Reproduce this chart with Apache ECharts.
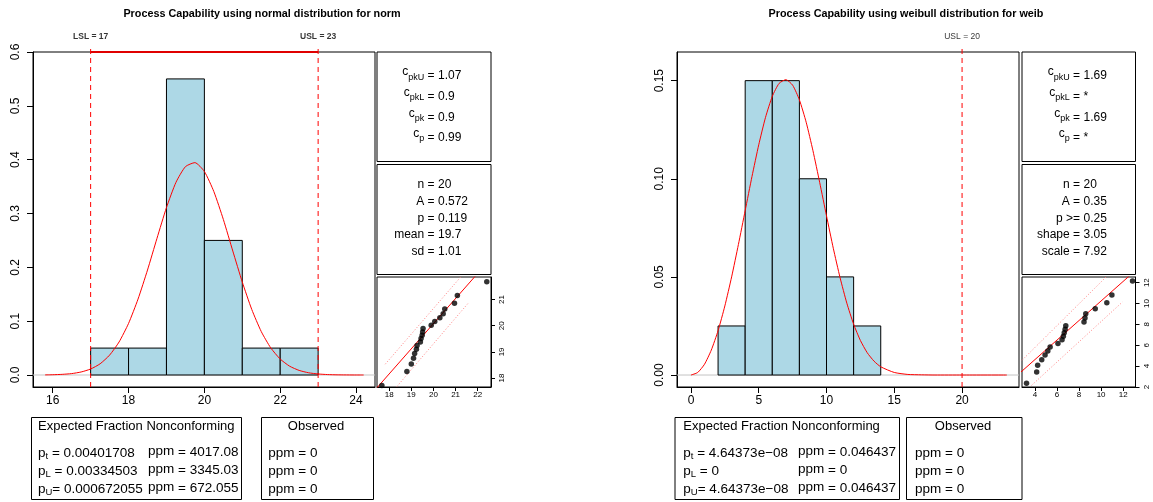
<!DOCTYPE html>
<html><head><meta charset="utf-8">
<script src="https://cdn.jsdelivr.net/npm/echarts@6/dist/echarts.min.js"></script>
<style>html,body{margin:0;padding:0;background:#fff}#c{width:1153px;height:502px}</style>
</head><body><div id="c"></div>
<script>
// ================= DATA =================
const titles = ['Process Capability using normal distribution for norm', 'Process Capability using weibull distribution for weib'];

// --- normal ("norm") ---
const normBinEdges = [17, 18, 19, 20, 21, 22, 23];
const normDensity = [0.05, 0.05, 0.55, 0.25, 0.05, 0.05];
const normCurveX = [15.8, 16, 16.25, 16.5, 16.75, 17, 17.25, 17.5, 17.75, 18, 18.25, 18.5, 18.75, 19, 19.25, 19.5, 19.75, 20, 20.25, 20.5, 20.75, 21, 21.25, 21.5, 21.75, 22, 22.25, 22.5, 22.75, 23, 23.25, 23.5, 24, 24.2];
const normCurveY = [0.0002, 0.0005, 0.0012, 0.0026, 0.0056, 0.0111, 0.0208, 0.0369, 0.0613, 0.0958, 0.1410, 0.1950, 0.2539, 0.3110, 0.3578, 0.3870, 0.3945, 0.3780, 0.3407, 0.2890, 0.2302, 0.1726, 0.1217, 0.0807, 0.0504, 0.0296, 0.0163, 0.0085, 0.0041, 0.0019, 0.0008, 0.0003, 0.0000, 0.0000];
const normSpecValues = [17, 23];
const normSpecLabels = ['LSL = 17', 'USL = 23'];
const normXTicks = [16, 18, 20, 22, 24];
const normYTicks = [0, 0.1, 0.2, 0.3, 0.4, 0.5, 0.6];
const normYTickLabels = ['0.0', '0.1', '0.2', '0.3', '0.4', '0.5', '0.6'];
const normQQSample = [17.67, 18.80, 19.00, 19.10, 19.15, 19.23, 19.26, 19.41, 19.44, 19.49, 19.51, 19.53, 19.90, 20.06, 20.29, 20.44, 20.51, 20.95, 21.08, 22.41];
const normQQTheoretical = [17.72, 18.25, 18.54, 18.76, 18.94, 19.10, 19.24, 19.38, 19.51, 19.64, 19.76, 19.89, 20.02, 20.16, 20.30, 20.46, 20.64, 20.86, 21.15, 21.68];
const normQQLine = [[17.0, 17.20], [23.0, 22.96]];
const normQQUpper = [[17.82, 18.53], [21.23, 21.86]];
const normQQLower = [[18.35, 17.68], [21.60, 20.89]];
const normQQXTicks = [18, 19, 20, 21, 22];
const normQQYTicks = [18, 19, 20, 21];
const normCapSubs = ['pkU', 'pkL', 'pk', 'p'];
const normCapValues = ['1.07', '0.9', '0.9', '0.99'];
const normStatLabels = ['n =', 'A =', 'p =', 'mean =', 'sd ='];
const normStatValues = ['20', '0.572', '0.119', '19.7', '1.01'];
const normExpSubs = ['t', 'L', 'U'];
const normExpP = [' = 0.00401708', ' = 0.00334503', '= 0.000672055'];
const normExpPpm = ['4017.08', '3345.03', '672.055'];
const normObsPpm = ['0', '0', '0'];

// --- weibull ("weib") ---
const weibBinEdges = [2, 4, 6, 8, 10, 12, 14];
const weibDensity = [0.025, 0.15, 0.15, 0.10, 0.05, 0.025];
const weibCurveX = [0, 0.5, 1, 1.5, 2, 2.5, 3, 3.5, 4, 4.5, 5, 5.5, 6, 6.5, 7, 7.5, 8, 8.5, 9, 9.5, 10, 10.5, 11, 11.5, 12, 12.5, 13, 13.5, 14, 15, 16, 17, 18, 20, 23.3];
const weibCurveY = [0, 0.0013, 0.0055, 0.0127, 0.0226, 0.0352, 0.0500, 0.0665, 0.0838, 0.1011, 0.1173, 0.1313, 0.1420, 0.1486, 0.1505, 0.1477, 0.1402, 0.1288, 0.1143, 0.0980, 0.0811, 0.0646, 0.0496, 0.0366, 0.0259, 0.0176, 0.0114, 0.0071, 0.0042, 0.0013, 0.0003, 0.0001, 0, 0, 0];
const weibSpecValues = [20];
const weibSpecLabels = ['USL = 20'];
const weibXTicks = [0, 5, 10, 15, 20];
const weibYTicks = [0, 0.05, 0.10, 0.15];
const weibYTickLabels = ['0.00', '0.05', '0.10', '0.15'];
const weibQQSample = [3.24, 4.16, 4.25, 4.62, 4.92, 5.17, 5.38, 6.09, 6.46, 6.58, 6.66, 6.74, 6.80, 8.45, 8.54, 8.61, 9.47, 10.52, 10.98, 12.85];
const weibQQTheoretical = [2.37, 3.43, 4.09, 4.61, 5.06, 5.46, 5.83, 6.18, 6.52, 6.86, 7.19, 7.53, 7.87, 8.23, 8.61, 9.03, 9.50, 10.07, 10.82, 12.15];
const weibQQLine = [[2.0, 2.75], [14.0, 13.99]];
const weibQQUpper = [[2.83, 4.56], [10.45, 12.54]];
const weibQQLower = [[3.70, 2.16], [11.93, 10.14]];
const weibQQXTicks = [4, 6, 8, 10, 12];
const weibQQYTicks = [2, 4, 6, 8, 10, 12];
const weibCapSubs = ['pkU', 'pkL', 'pk', 'p'];
const weibCapValues = ['1.69', '*', '1.69', '*'];
const weibStatLabels = ['n =', 'A =', 'p >=', 'shape =', 'scale ='];
const weibStatValues = ['20', '0.35', '0.25', '3.05', '7.92'];
const weibExpSubs = ['t', 'L', 'U'];
const weibExpP = [' = 4.64373e\u221208', ' = 0', '= 4.64373e\u221208'];
const weibExpPpm = ['0.046437', '0', '0.046437'];
const weibObsPpm = ['0', '0', '0'];

// ================= LAYOUT / STYLE =================
const FONT = '"Liberation Sans", Arial, Helvetica, sans-serif';
const FS = 12;
const TFS = 13.5;

const panels = [
  { // normal
    hist: {left: 33, top: 52, width: 342, height: 335, xr: [15.48, 24.50], yr: [-0.0223, 0.6]},
    qq: {left: 377, top: 277, width: 114, height: 110, xr: [17.45, 22.60], yr: [17.66, 21.86]},
    side: {x: 377, w: 114, xOp: 434.5},
    titleX: 262,
    bottom: {b1x: 31.5, b1w: 210, b2x: 261.5, b2w: 112, tx: 38, ppmx: 148, obsCx: 316, obsx: 268.3},
    specBold: true, topLine: true,
    edges: normBinEdges, dens: normDensity, cx: normCurveX, cy: normCurveY,
    specs: normSpecValues, specLabels: normSpecLabels, xTicks: normXTicks, yTicks: normYTicks, yTickLabels: normYTickLabels,
    qqS: normQQSample, qqT: normQQTheoretical, qqLine: normQQLine, qqUp: normQQUpper, qqLo: normQQLower,
    qqXT: normQQXTicks, qqYT: normQQYTicks,
    capSubs: normCapSubs, capVals: normCapValues, statLabels: normStatLabels, statVals: normStatValues,
    expSubs: normExpSubs, expP: normExpP, expPpm: normExpPpm, obsPpm: normObsPpm
  },
  { // weibull
    hist: {left: 677, top: 52, width: 342, height: 335, xr: [-1.03, 24.2], yr: [-0.0061, 0.1646]},
    qq: {left: 1022, top: 277, width: 113.5, height: 110, xr: [2.83, 13.12], yr: [2.0, 12.54]},
    side: {x: 1022, w: 113.5, xOp: 1080},
    titleX: 906,
    bottom: {b1x: 675, b1w: 224.5, b2x: 906.5, b2w: 115.5, tx: 683.3, ppmx: 798, obsCx: 963, obsx: 915},
    specBold: false, topLine: false,
    edges: weibBinEdges, dens: weibDensity, cx: weibCurveX, cy: weibCurveY,
    specs: weibSpecValues, specLabels: weibSpecLabels, xTicks: weibXTicks, yTicks: weibYTicks, yTickLabels: weibYTickLabels,
    qqS: weibQQSample, qqT: weibQQTheoretical, qqLine: weibQQLine, qqUp: weibQQUpper, qqLo: weibQQLower,
    qqXT: weibQQXTicks, qqYT: weibQQYTicks,
    capSubs: weibCapSubs, capVals: weibCapValues, statLabels: weibStatLabels, statVals: weibStatValues,
    expSubs: weibExpSubs, expP: weibExpP, expPpm: weibExpPpm, obsPpm: weibObsPpm
  }
];

const capRowsY = [75.8, 96.2, 117.5, 137.5];
const statRowsY = [184.5, 201.5, 218.3, 235.1, 251.9];
const tableTitleY = 426;
const tableRowsY = [453, 471, 489];

const grid = [], xAxis = [], yAxis = [], series = [], graphic = [];

function nearestLabel(v, ticks, labels) {
  let best = 0;
  ticks.forEach((t, i) => { if (Math.abs(t - v) < Math.abs(ticks[best] - v)) best = i; });
  return labels[best];
}

function txt(x, y, text, o) {
  o = o || {};
  const style = {
    text: text, x: x, y: y,
    font: (o.weight || 'normal') + ' ' + (o.size || FS) + 'px ' + FONT,
    fill: '#000', textAlign: o.align || 'left', textVerticalAlign: 'middle', verticalAlign: 'middle'
  };
  if (o.rich) style.rich = o.rich;
  return {type: 'text', silent: true, style: style, z: 10};
}
function box(x, y, w, h) {
  return {type: 'rect', silent: true, shape: {x: x, y: y, width: w, height: h},
    style: {fill: 'none', stroke: '#000', lineWidth: 1}, z: 5};
}
function tok(size, lh, va) {
  return {fontSize: size, fontFamily: FONT, lineHeight: lh, verticalAlign: va, fill: '#000'};
}

const capRich = {c: tok(FS, 16, 'top'), s: tok(9, 16, 'bottom'), e: tok(FS, 16, 'bottom')};
const pRich = {p: tok(TFS, 15, 'top'), s: tok(9.5, 15, 'bottom'), v: tok(TFS, 15, 'top')};
const ppmRich = {q: tok(TFS, 15, 'top'), v: tok(TFS, 15, 'bottom')};

panels.forEach((P, k) => {
  const gH = 2 * k, gQ = 2 * k + 1;
  grid.push({left: P.hist.left, top: P.hist.top, width: P.hist.width, height: P.hist.height, show: true, borderColor: '#000', borderWidth: 1, backgroundColor: 'transparent'});
  grid.push({left: P.qq.left, top: P.qq.top, width: P.qq.width, height: P.qq.height, show: true, borderColor: '#000', borderWidth: 1, backgroundColor: 'transparent'});

  xAxis.push({type: 'value', gridIndex: gH, min: P.hist.xr[0], max: P.hist.xr[1],
    axisLine: {show: true, onZero: false, lineStyle: {color: '#000'}},
    axisTick: {show: true, length: 6, customValues: P.xTicks, lineStyle: {color: '#000'}},
    axisLabel: {customValues: P.xTicks, fontSize: FS, fontFamily: FONT, color: '#000', margin: 8},
    splitLine: {show: false}});
  yAxis.push({type: 'value', gridIndex: gH, min: P.hist.yr[0], max: P.hist.yr[1],
    axisLine: {show: true, onZero: false, lineStyle: {color: '#000'}},
    axisTick: {show: true, length: 6, customValues: P.yTicks, lineStyle: {color: '#000'}},
    axisLabel: {customValues: P.yTicks, rotate: 90, fontSize: FS, fontFamily: FONT, color: '#000', margin: 11,
      formatter: v => nearestLabel(v, P.yTicks, P.yTickLabels)},
    splitLine: {show: false}});
  xAxis.push({type: 'value', gridIndex: gQ, min: P.qq.xr[0], max: P.qq.xr[1],
    axisLine: {show: true, onZero: false, lineStyle: {color: '#000'}},
    axisTick: {show: true, length: 4, customValues: P.qqXT, lineStyle: {color: '#000'}},
    axisLabel: {customValues: P.qqXT, fontSize: 8, fontFamily: FONT, color: '#000', margin: 4},
    splitLine: {show: false}});
  yAxis.push({type: 'value', gridIndex: gQ, position: 'right', min: P.qq.yr[0], max: P.qq.yr[1],
    axisLine: {show: true, onZero: false, lineStyle: {color: '#000'}},
    axisTick: {show: true, length: 4, customValues: P.qqYT, lineStyle: {color: '#000'}},
    axisLabel: {customValues: P.qqYT, rotate: 90, fontSize: 8, fontFamily: FONT, color: '#000', margin: 7},
    splitLine: {show: false}});

  const xi = gH, yi = gH;
  series.push({type: 'line', xAxisIndex: xi, yAxisIndex: yi, data: [[P.hist.xr[0], 0], [P.hist.xr[1], 0]],
    symbol: 'none', lineStyle: {color: '#c4c4c4', width: 1}, silent: true, z: 1});
  const bars = P.dens.map((d, i) => [P.edges[i], P.edges[i + 1], d]);
  series.push({type: 'custom', xAxisIndex: xi, yAxisIndex: yi, data: bars, encode: {x: [0, 1], y: 2}, z: 2, silent: true,
    renderItem: (params, api) => {
      const a = api.coord([api.value(0), api.value(2)]);
      const b = api.coord([api.value(1), 0]);
      return {type: 'rect', shape: {x: a[0], y: a[1], width: b[0] - a[0], height: b[1] - a[1]},
        style: {fill: '#ADD8E6', stroke: '#000', lineWidth: 1}};
    }});
  series.push({type: 'line', xAxisIndex: xi, yAxisIndex: yi, data: P.cx.map((x, i) => [x, P.cy[i]]),
    symbol: 'none', smooth: 0.2, lineStyle: {color: '#ff0000', width: 1}, silent: true, z: 3});
  P.specs.forEach((s, i) => {
    const yTopExt = P.hist.yr[1] + (P.hist.yr[1] - P.hist.yr[0]) * 0.02;
    series.push({type: 'line', xAxisIndex: xi, yAxisIndex: yi, data: [[s, P.hist.yr[0]], [s, yTopExt]], clip: false,
      symbol: 'none', lineStyle: {color: '#ff0000', width: 1, type: [5, 4]}, silent: true, z: 4});
    series.push({type: 'scatter', xAxisIndex: xi, yAxisIndex: yi, data: [[s, P.hist.yr[1]]], clip: false, symbolSize: 0, silent: true, z: 6,
      label: {show: true, position: 'top', distance: 11, formatter: P.specLabels[i], fontSize: 8.5,
        fontWeight: P.specBold ? 'bold' : 'normal', fontFamily: FONT, color: '#000'}});
  });
  if (P.topLine) {
    series.push({type: 'line', xAxisIndex: xi, yAxisIndex: yi, data: P.specs.map(s => [s, P.hist.yr[1]]), clip: false,
      symbol: 'none', lineStyle: {color: '#e00000', width: 2}, silent: true, z: 6});
  }

  const qx = gQ, qy = gQ;
  series.push({type: 'line', xAxisIndex: qx, yAxisIndex: qy, data: P.qqUp, symbol: 'none',
    lineStyle: {color: '#ff8080', width: 1, type: [1, 2]}, silent: true, z: 2});
  series.push({type: 'line', xAxisIndex: qx, yAxisIndex: qy, data: P.qqLo, symbol: 'none',
    lineStyle: {color: '#ff8080', width: 1, type: [1, 2]}, silent: true, z: 2});
  series.push({type: 'line', xAxisIndex: qx, yAxisIndex: qy, data: P.qqLine, symbol: 'none',
    lineStyle: {color: '#ff0000', width: 1}, silent: true, z: 3});
  series.push({type: 'scatter', xAxisIndex: qx, yAxisIndex: qy, data: P.qqS.map((s, i) => [s, P.qqT[i]]),
    symbol: 'circle', symbolSize: 5.5, itemStyle: {color: '#000'}, clip: false, silent: true, z: 4});

  graphic.push(txt(P.titleX, 14, titles[k], {align: 'center', size: 10.8, weight: 'bold'}));

  graphic.push(box(P.side.x, 52, P.side.w, 109.5));
  graphic.push(box(P.side.x, 164.5, P.side.w, 110));
  P.capSubs.forEach((s, i) => {
    graphic.push(txt(P.side.xOp, capRowsY[i] - 2, '{c|c}{s|' + s + '}{e| =}', {align: 'right', rich: capRich}));
    graphic.push(txt(P.side.xOp + 3.5, capRowsY[i], P.capVals[i]));
  });
  P.statLabels.forEach((s, i) => {
    graphic.push(txt(P.side.xOp, statRowsY[i], s, {align: 'right'}));
    graphic.push(txt(P.side.xOp + 3.5, statRowsY[i], P.statVals[i]));
  });

  const B = P.bottom;
  graphic.push(box(B.b1x, 417.5, B.b1w, 82));
  graphic.push(box(B.b2x, 417.5, B.b2w, 82));
  graphic.push(txt(B.tx, tableTitleY, 'Expected Fraction Nonconforming', {size: 13}));
  graphic.push(txt(B.obsCx, tableTitleY, 'Observed', {align: 'center', size: 13}));
  P.expSubs.forEach((s, i) => {
    graphic.push(txt(B.tx, tableRowsY[i] + 1, '{p|p}{s|' + s + '}{v|' + P.expP[i] + '}', {rich: pRich, size: TFS}));
    graphic.push(txt(B.ppmx, tableRowsY[i] - 1, '{q|ppm}{v| = ' + P.expPpm[i] + '}', {rich: ppmRich, size: TFS}));
    graphic.push(txt(B.obsx, tableRowsY[i], 'ppm = ' + P.obsPpm[i], {size: TFS}));
  });
});

const chart = echarts.init(document.getElementById('c'), null, {renderer: 'canvas'});
chart.setOption({
  animation: false,
  backgroundColor: '#fff',
  grid: grid, xAxis: xAxis, yAxis: yAxis, series: series, graphic: graphic
});
</script>
</body></html>
